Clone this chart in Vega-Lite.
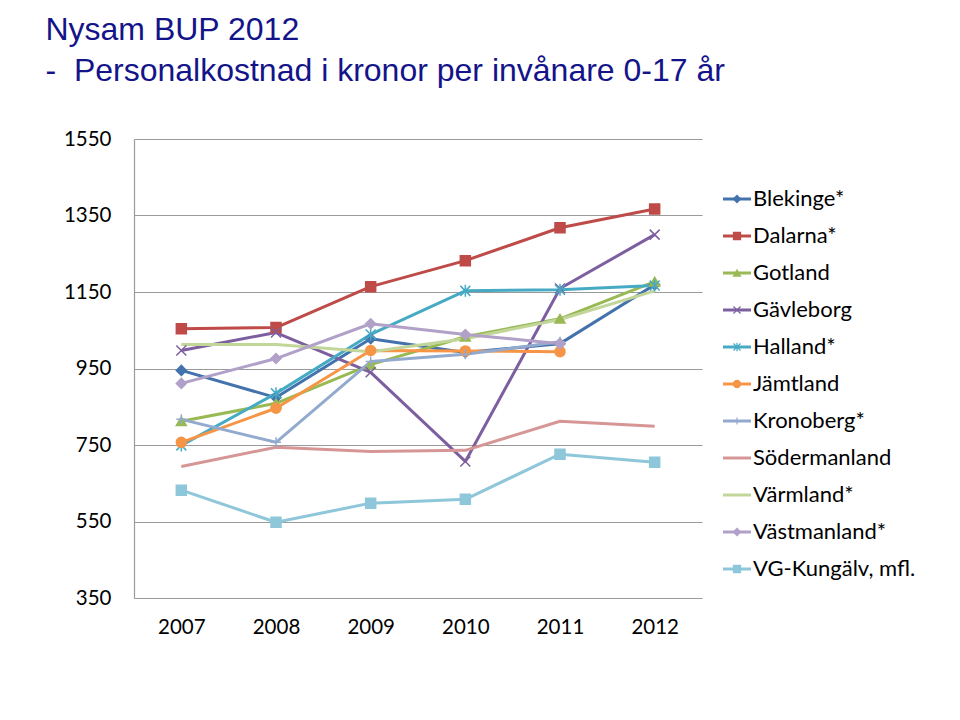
{
  "$schema": "https://vega.github.io/schema/vega-lite/v6.json",
  "padding": {"left": 45, "top": 14, "right": 5, "bottom": 5},
  "background": "white",
  "title": {
    "text": "Nysam BUP 2012",
    "subtitle": "-\u00a0 Personalkostnad i kronor per invånare 0-17 år",
    "anchor": "start",
    "frame": "bounds",
    "dx": -18,
    "font": "Liberation Sans",
    "fontSize": 32,
    "fontWeight": "normal",
    "color": "#14148A",
    "subtitleFont": "Liberation Sans",
    "subtitleFontSize": 32,
    "subtitleColor": "#14148A",
    "subtitlePadding": 9,
    "offset": 41
  },
  "datasets": {
    "costs": [
      {"series": "Blekinge*", "year": 2007, "value": 945},
      {"series": "Blekinge*", "year": 2008, "value": 874},
      {"series": "Blekinge*", "year": 2009, "value": 1028},
      {"series": "Blekinge*", "year": 2010, "value": 992},
      {"series": "Blekinge*", "year": 2011, "value": 1015},
      {"series": "Blekinge*", "year": 2012, "value": 1169},
      {"series": "Dalarna*", "year": 2007, "value": 1054},
      {"series": "Dalarna*", "year": 2008, "value": 1057},
      {"series": "Dalarna*", "year": 2009, "value": 1164},
      {"series": "Dalarna*", "year": 2010, "value": 1232},
      {"series": "Dalarna*", "year": 2011, "value": 1318},
      {"series": "Dalarna*", "year": 2012, "value": 1367},
      {"series": "Gotland", "year": 2007, "value": 812},
      {"series": "Gotland", "year": 2008, "value": 859},
      {"series": "Gotland", "year": 2009, "value": 960},
      {"series": "Gotland", "year": 2010, "value": 1033},
      {"series": "Gotland", "year": 2011, "value": 1080},
      {"series": "Gotland", "year": 2012, "value": 1177},
      {"series": "Gävleborg", "year": 2007, "value": 997},
      {"series": "Gävleborg", "year": 2008, "value": 1044},
      {"series": "Gävleborg", "year": 2009, "value": 940},
      {"series": "Gävleborg", "year": 2010, "value": 707},
      {"series": "Gävleborg", "year": 2011, "value": 1159},
      {"series": "Gävleborg", "year": 2012, "value": 1300},
      {"series": "Halland*", "year": 2007, "value": 749},
      {"series": "Halland*", "year": 2008, "value": 885},
      {"series": "Halland*", "year": 2009, "value": 1039},
      {"series": "Halland*", "year": 2010, "value": 1153},
      {"series": "Halland*", "year": 2011, "value": 1156},
      {"series": "Halland*", "year": 2012, "value": 1167},
      {"series": "Jämtland", "year": 2007, "value": 757},
      {"series": "Jämtland", "year": 2008, "value": 846},
      {"series": "Jämtland", "year": 2009, "value": 997},
      {"series": "Jämtland", "year": 2010, "value": 996},
      {"series": "Jämtland", "year": 2011, "value": 994},
      {"series": "Kronoberg*", "year": 2007, "value": 817},
      {"series": "Kronoberg*", "year": 2008, "value": 757},
      {"series": "Kronoberg*", "year": 2009, "value": 968},
      {"series": "Kronoberg*", "year": 2010, "value": 987},
      {"series": "Kronoberg*", "year": 2011, "value": 1020},
      {"series": "Södermanland", "year": 2007, "value": 694},
      {"series": "Södermanland", "year": 2008, "value": 744},
      {"series": "Södermanland", "year": 2009, "value": 733},
      {"series": "Södermanland", "year": 2010, "value": 736},
      {"series": "Södermanland", "year": 2011, "value": 812},
      {"series": "Södermanland", "year": 2012, "value": 799},
      {"series": "Värmland*", "year": 2007, "value": 1013},
      {"series": "Värmland*", "year": 2008, "value": 1013},
      {"series": "Värmland*", "year": 2009, "value": 994},
      {"series": "Värmland*", "year": 2010, "value": 1028},
      {"series": "Värmland*", "year": 2011, "value": 1078},
      {"series": "Värmland*", "year": 2012, "value": 1153},
      {"series": "Västmanland*", "year": 2007, "value": 911},
      {"series": "Västmanland*", "year": 2008, "value": 976},
      {"series": "Västmanland*", "year": 2009, "value": 1067},
      {"series": "Västmanland*", "year": 2010, "value": 1039},
      {"series": "Västmanland*", "year": 2011, "value": 1015},
      {"series": "VG-Kungälv, mfl.", "year": 2007, "value": 632},
      {"series": "VG-Kungälv, mfl.", "year": 2008, "value": 548},
      {"series": "VG-Kungälv, mfl.", "year": 2009, "value": 598},
      {"series": "VG-Kungälv, mfl.", "year": 2010, "value": 608},
      {"series": "VG-Kungälv, mfl.", "year": 2011, "value": 726},
      {"series": "VG-Kungälv, mfl.", "year": 2012, "value": 705}
    ],
    "series": [
      {"series": "Blekinge*"},
      {"series": "Dalarna*"},
      {"series": "Gotland"},
      {"series": "Gävleborg"},
      {"series": "Halland*"},
      {"series": "Jämtland"},
      {"series": "Kronoberg*"},
      {"series": "Södermanland"},
      {"series": "Värmland*"},
      {"series": "Västmanland*"},
      {"series": "VG-Kungälv, mfl."}
    ]
  },
  "spacing": 19,
  "hconcat": [
    {
      "width": 568,
      "height": 459,
      "data": {"name": "costs"},
      "encoding": {
        "x": {
          "field": "year", "type": "ordinal", "title": null,
          "axis": {"labelAngle": 0, "ticks": false, "domain": false, "grid": false,
                   "labelFont": "Lato", "labelFontSize": 20.5, "labelColor": "#000000", "labelPadding": 19}
        },
        "y": {
          "field": "value", "type": "quantitative", "title": null,
          "scale": {"domain": [350, 1550], "nice": false, "zero": false},
          "axis": {"values": [350, 550, 750, 950, 1150, 1350, 1550], "format": "d", "ticks": false,
                   "domain": true, "domainColor": "#9A9A9A", "domainWidth": 1.2,
                   "grid": true, "gridColor": "#9A9A9A", "gridWidth": 1.2,
                   "labelFont": "Lato", "labelFontSize": 20.5, "labelColor": "#000000", "labelPadding": 23}
        },
        "color": {
          "field": "series", "type": "nominal", "legend": null,
          "scale": {
            "domain": ["Blekinge*", "Dalarna*", "Gotland", "Gävleborg", "Halland*", "Jämtland", "Kronoberg*", "Södermanland", "Värmland*", "Västmanland*", "VG-Kungälv, mfl."],
            "range": ["#4372AC", "#BE4B48", "#98B954", "#7D5FA0", "#46AAC5", "#F69546", "#93AACF", "#D69696", "#C2D69A", "#B1A1C8", "#8EC6DA"]
          }
        }
      },
      "layer": [
        {"mark": {"type": "line", "strokeWidth": 3, "strokeJoin": "round"}},
        {
          "transform": [{"filter": {"not": {"field": "series", "oneOf": ["Södermanland", "Värmland*"]}}}],
          "mark": {"type": "point", "filled": true, "opacity": 1, "size": 100, "strokeWidth": 1.5},
          "encoding": {
            "shape": {
              "field": "series", "type": "nominal", "legend": null,
              "scale": {
                "domain": ["Blekinge*", "Dalarna*", "Gotland", "Gävleborg", "Halland*", "Jämtland", "Kronoberg*", "Södermanland", "Värmland*", "Västmanland*", "VG-Kungälv, mfl."],
                "range": ["diamond", "square", "triangle-up", "M-1,-1L1,1M-1,1L1,-1", "M-1,-1L1,1M-1,1L1,-1M0,-1.2L0,1.2", "circle", "M-1,0L1,0M0,-1L0,1", "circle", "circle", "diamond", "square"]
              }
            },
            "stroke": {
              "field": "series", "type": "nominal", "legend": null,
              "scale": {
                "domain": ["Blekinge*", "Dalarna*", "Gotland", "Gävleborg", "Halland*", "Jämtland", "Kronoberg*", "Södermanland", "Värmland*", "Västmanland*", "VG-Kungälv, mfl."],
                "range": ["#4372AC", "#BE4B48", "#98B954", "#7D5FA0", "#46AAC5", "#F69546", "#93AACF", "#D69696", "#C2D69A", "#B1A1C8", "#8EC6DA"]
              }
            }
          }
        }
      ]
    },
    {
      "width": 230,
      "height": 459,
      "data": {"name": "series"},
      "encoding": {
        "y": {
          "field": "series", "type": "nominal", "axis": null,
          "scale": {
            "type": "point",
            "padding": 0,
            "domain": ["Blekinge*", "Dalarna*", "Gotland", "Gävleborg", "Halland*", "Jämtland", "Kronoberg*", "Södermanland", "Värmland*", "Västmanland*", "VG-Kungälv, mfl."],
            "range": [60, 430]
          }
        },
        "color": {
          "field": "series", "type": "nominal", "legend": null,
          "scale": {
            "domain": ["Blekinge*", "Dalarna*", "Gotland", "Gävleborg", "Halland*", "Jämtland", "Kronoberg*", "Södermanland", "Värmland*", "Västmanland*", "VG-Kungälv, mfl."],
            "range": ["#4372AC", "#BE4B48", "#98B954", "#7D5FA0", "#46AAC5", "#F69546", "#93AACF", "#D69696", "#C2D69A", "#B1A1C8", "#8EC6DA"]
          }
        }
      },
      "layer": [
        {
          "mark": {"type": "rule", "strokeWidth": 3},
          "encoding": {
            "x": {"datum": 0, "type": "quantitative", "scale": {"domain": [0, 230], "nice": false, "zero": false}, "axis": null},
            "x2": {"datum": 28}
          }
        },
        {
          "transform": [{"filter": {"not": {"field": "series", "oneOf": ["Södermanland", "Värmland*"]}}}],
          "mark": {"type": "point", "filled": true, "opacity": 1, "size": 50, "strokeWidth": 1.2},
          "encoding": {
            "x": {"datum": 14, "type": "quantitative"},
            "shape": {
              "field": "series", "type": "nominal", "legend": null,
              "scale": {
                "domain": ["Blekinge*", "Dalarna*", "Gotland", "Gävleborg", "Halland*", "Jämtland", "Kronoberg*", "Södermanland", "Värmland*", "Västmanland*", "VG-Kungälv, mfl."],
                "range": ["diamond", "square", "triangle-up", "M-1,-1L1,1M-1,1L1,-1", "M-1,-1L1,1M-1,1L1,-1M0,-1.2L0,1.2", "circle", "M-1,0L1,0M0,-1L0,1", "circle", "circle", "diamond", "square"]
              }
            },
            "stroke": {
              "field": "series", "type": "nominal", "legend": null,
              "scale": {
                "domain": ["Blekinge*", "Dalarna*", "Gotland", "Gävleborg", "Halland*", "Jämtland", "Kronoberg*", "Södermanland", "Värmland*", "Västmanland*", "VG-Kungälv, mfl."],
                "range": ["#4372AC", "#BE4B48", "#98B954", "#7D5FA0", "#46AAC5", "#F69546", "#93AACF", "#D69696", "#C2D69A", "#B1A1C8", "#8EC6DA"]
              }
            }
          }
        },
        {
          "mark": {"type": "text", "align": "left", "baseline": "middle", "font": "Lato", "fontSize": 22, "color": "#000000"},
          "encoding": {
            "x": {"datum": 30, "type": "quantitative"},
            "text": {"field": "series", "type": "nominal"},
            "color": {"value": "#000000"}
          }
        }
      ]
    }
  ],
  "config": {"view": {"stroke": null}}
}
